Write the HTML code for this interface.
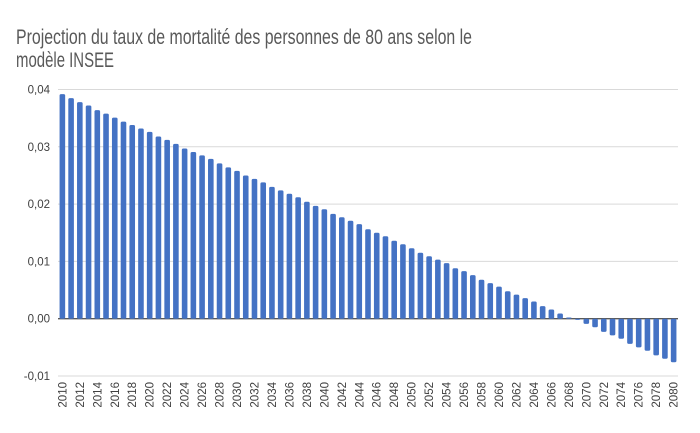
<!DOCTYPE html>
<html><head><meta charset="utf-8"><style>
body{margin:0;background:#fff}
svg{display:block;font-family:"Liberation Sans",sans-serif}
</style></head><body>
<svg width="700" height="433" viewBox="0 0 700 433">
<rect width="700" height="433" fill="#fff"/>
<text x="16" y="44" font-size="21" fill="#595959" textLength="456" lengthAdjust="spacingAndGlyphs">Projection du taux de mortalité des personnes de 80 ans selon le</text>
<text x="16" y="67" font-size="21" fill="#595959" textLength="98" lengthAdjust="spacingAndGlyphs">modèle INSEE</text>
<g id="grid"></g><g id="bars"></g><g id="xlabels"></g><g id="ylabels"></g>
</svg>
<script>
const years = [];
for (let y = 2010; y <= 2080; y++) years.push(y);
const values = [0.0392,0.0385,0.0378,0.0372,0.0364,0.0358,0.0351,0.0344,0.0338,0.0332,0.0326,0.0318,0.0312,0.0305,0.0297,0.0291,0.0285,0.0279,0.0271,0.0264,0.0258,0.0250,0.0244,0.0238,0.0230,0.0224,0.0218,0.0212,0.0204,0.0197,0.0191,0.0183,0.0177,0.0171,0.0165,0.0156,0.0150,0.0144,0.0136,0.0130,0.0123,0.0115,0.0109,0.0103,0.0097,0.0088,0.0083,0.0076,0.0068,0.0062,0.0056,0.0048,0.0042,0.0036,0.0030,0.0022,0.0016,0.0009,0.0002,-0.0002,-0.0009,-0.0015,-0.0023,-0.0029,-0.0035,-0.0044,-0.0050,-0.0056,-0.0064,-0.0070,-0.0076];
const yTicks = [0.04,0.03,0.02,0.01,0,-0.01];
const yTickLabels = ["0,04","0,03","0,02","0,01","0,00","-0,01"];
const NS = "http://www.w3.org/2000/svg";
const x0 = 58, x1 = 678;
const slot = (x1 - x0) / years.length;
const yScale = v => 318.7 - v * 5730;
const xScale = i => x0 + slot * (i + 0.5);
const grid = document.getElementById('grid');
const yl = document.getElementById('ylabels');
yTicks.forEach((t, i) => {
  const l = document.createElementNS(NS, 'line');
  l.setAttribute('x1', x0); l.setAttribute('x2', x1);
  l.setAttribute('y1', yScale(t)); l.setAttribute('y2', yScale(t));
  l.setAttribute('stroke', t === 0 ? '#595959' : '#d9d9d9');
  l.setAttribute('stroke-width', t === 0 ? 1.3 : 1);
  
  
  grid.appendChild(l);
  const tx = document.createElementNS(NS, 'text');
  tx.setAttribute('x', 50); tx.setAttribute('y', yScale(t) + 4);
  tx.setAttribute('text-anchor', 'end'); tx.setAttribute('font-size', '11.5');
  tx.setAttribute('fill', '#404040');
  tx.textContent = yTickLabels[i];
  
  
  yl.appendChild(tx);
});
const bars = document.getElementById('bars');
const xl = document.getElementById('xlabels');
const bw = 5.6;
values.forEach((v, i) => {
  const r = document.createElementNS(NS, 'rect');
  const top = Math.min(yScale(v), yScale(0)), h = Math.abs(yScale(v) - yScale(0));
  r.setAttribute('x', xScale(i) - bw / 2); r.setAttribute('y', top);
  r.setAttribute('width', bw); r.setAttribute('height', Math.max(h, 0.5));
  r.setAttribute('rx', 1.5);
  r.setAttribute('fill', '#4472c4');
  
  
  bars.appendChild(r);
  if (i % 2 === 0) {
    const t = document.createElementNS(NS, 'text');
    const cx = xScale(i) + 4, cy = 382;
    t.setAttribute('x', cx); t.setAttribute('y', cy);
    t.setAttribute('transform', 'rotate(-90 ' + cx + ' ' + cy + ')');
    t.setAttribute('text-anchor', 'end'); t.setAttribute('font-size', '11.5');
    t.setAttribute('fill', '#404040');
    t.textContent = years[i];
    
    
    xl.appendChild(t);
  }
});
</script>
</body></html>
